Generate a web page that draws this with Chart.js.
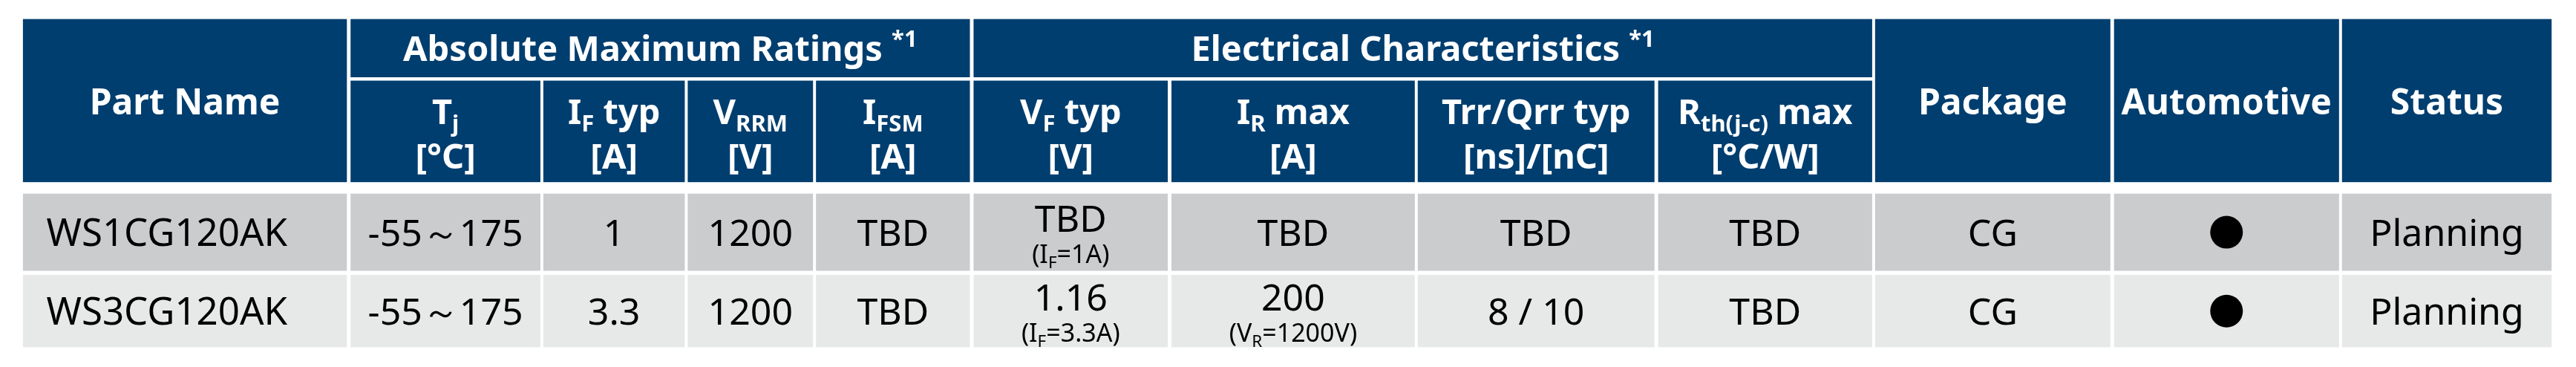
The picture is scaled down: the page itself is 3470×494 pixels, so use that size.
<!DOCTYPE html>
<html>
<head>
<meta charset="utf-8">
<script src="https://cdn.jsdelivr.net/npm/chart.js@4.4.1/dist/chart.umd.min.js"></script>
<style>
  html, body { margin: 0; padding: 0; background: #fff; }
  canvas { display: block; }
</style>
</head>
<body>
<canvas id="chart" width="3470" height="494"></canvas>
<script>
// table content
const partNames = ['WS1CG120AK', 'WS3CG120AK'];
const tjRange = ['-55～175', '-55～175'];
const ifTyp = ['1', '3.3'];
const vrrm = ['1200', '1200'];
const ifsm = ['TBD', 'TBD'];
const vfTyp = ['TBD', '1.16'];
const vfCond = [[['(I'], ['F', 'sub'], ['=1A)']], [['(I'], ['F', 'sub'], ['=3.3A)']]];
const irMax = ['TBD', '200'];
const irCond = [null, [['(V'], ['R', 'sub'], ['=1200V)']]];
const trrQrr = ['TBD', '8 / 10'];
const rthMax = ['TBD', 'TBD'];
const packages = ['CG', 'CG'];
const automotive = [true, true];
const status = ['Planning', 'Planning'];

const groupTitles = [
  { text: [['Absolute Maximum Ratings '], ['*1', 'sup']], from: 1, to: 4 },
  { text: [['Electrical Characteristics '], ['*1', 'sup']], from: 5, to: 8 },
];
const spanHeaders = { 0: 'Part Name', 9: 'Package', 10: 'Automotive', 11: 'Status' };
const subHeaders = {
  1: [[['T'], ['j', 'sub']], [['[°C]']]],
  2: [[['I'], ['F', 'sub'], [' typ']], [['[A]']]],
  3: [[['V'], ['RRM', 'sub']], [['[V]']]],
  4: [[['I'], ['FSM', 'sub']], [['[A]']]],
  5: [[['V'], ['F', 'sub'], [' typ']], [['[V]']]],
  6: [[['I'], ['R', 'sub'], [' max']], [['[A]']]],
  7: [[['Trr/Qrr typ']], [['[ns]/[nC]']]],
  8: [[['R'], ['th(j-c)', 'sub'], [' max']], [['[°C/W]']]],
};

// layout (pixels)
const colEdges = [[9, 451], [456, 715], [719, 912], [916, 1087], [1091, 1301], [1306, 1571],
  [1576, 1908], [1912, 2235], [2240, 2532], [2536, 2857], [2862, 3169], [3173, 3459]];
const headTop = 4, groupBottom = 90, subTop = 95, headBottom = 245;
const rowEdges = [[262, 376], [382, 489]];
const HEAD = '#003e6f';
const ROWBG = ['#cbccce', '#e7e9e8'];
const FONT = '"Noto Sans", "Open Sans", sans-serif';

const bodyCols = [partNames, tjRange, ifTyp, vrrm, ifsm, vfTyp, irMax, trrQrr, rthMax, packages, null, status];

function drawRich(ctx, segs, cx, cy, size, bold, color, left) {
  const w = bold ? 'bold ' : '';
  const parts = segs.map(([t, k]) => {
    const s = k ? size * 0.66 : size;
    ctx.font = w + s + 'px ' + FONT;
    return { t, k, s, width: ctx.measureText(t).width };
  });
  const total = parts.reduce((a, p) => a + p.width, 0);
  let x = left ? cx : cx - total / 2;
  ctx.fillStyle = color;
  ctx.textAlign = 'left';
  ctx.textBaseline = 'alphabetic';
  const base = cy + size * 0.36;
  parts.forEach(p => {
    ctx.font = w + p.s + 'px ' + FONT;
    let y = base;
    if (p.k === 'sub') y += size * 0.2;
    if (p.k === 'sup') y -= size * 0.4;
    ctx.fillText(p.t, x, y);
    x += p.width;
  });
}

const tablePlugin = {
  id: 'table',
  beforeDatasetsDraw(chart) {
    const { ctx, scales: { x, y } } = chart;
    const px = v => x.getPixelForValue(v), py = v => y.getPixelForValue(v);
    const rect = (x0, y0, x1, y1, c) => { ctx.fillStyle = c; ctx.fillRect(px(x0), py(y0), px(x1) - px(x0), py(y1) - py(y0)); };
    ctx.save();
    // header
    colEdges.forEach(([a, b], i) => {
      if (spanHeaders[i] !== undefined) {
        rect(a, headTop, b, headBottom, HEAD);
        drawRich(ctx, [[spanHeaders[i]]], px((a + b) / 2), py(126), 48, true, '#fff');
      } else {
        rect(a, subTop, b, headBottom, HEAD);
        const [l1, l2] = subHeaders[i];
        drawRich(ctx, l1, px((a + b) / 2), py(141), 47, true, '#fff');
        drawRich(ctx, l2, px((a + b) / 2), py(206), 47, true, '#fff');
      }
    });
    groupTitles.forEach(g => {
      const a = colEdges[g.from][0], b = colEdges[g.to][1];
      rect(a, headTop, b, groupBottom, HEAD);
      drawRich(ctx, g.text, px((a + b) / 2), py(47), 47, true, '#fff');
    });
    // body
    rowEdges.forEach(([t, bt], r) => {
      const cy = (t + bt) / 2;
      colEdges.forEach(([a, b], i) => {
        rect(a, t, b, bt, ROWBG[r]);
        const col = bodyCols[i];
        if (!col) return;
        const cx = px((a + b) / 2);
        const cond = i === 5 ? vfCond[r] : i === 6 ? irCond[r] : null;
        if (i === 0) {
          drawRich(ctx, [[col[r]]], px(a + 32), py(cy), 51, false, '#000', true);
        } else if (cond) {
          drawRich(ctx, [[col[r]]], cx, py(cy - 20), 50, false, '#000');
          drawRich(ctx, cond, cx, py(cy + 32), 34, false, '#000');
        } else {
          drawRich(ctx, [[col[r]]], cx, py(cy), 50, false, '#000');
        }
      });
    });
    ctx.restore();
  }
};

const autoCol = colEdges[10];
const dots = automotive.map((v, r) => v ? { x: (autoCol[0] + autoCol[1]) / 2, y: (rowEdges[r][0] + rowEdges[r][1]) / 2 } : null).filter(Boolean);

new Chart(document.getElementById('chart'), {
  type: 'scatter',
  data: {
    datasets: [{
      data: dots,
      pointRadius: 22,
      pointBackgroundColor: '#000',
      pointBorderWidth: 0,
    }],
  },
  options: {
    responsive: false,
    animation: false,
    devicePixelRatio: 1,
    layout: { padding: 0 },
    plugins: { legend: { display: false }, tooltip: { enabled: false } },
    scales: {
      x: { type: 'linear', min: 0, max: 3470, display: false },
      y: { type: 'linear', min: 0, max: 494, reverse: true, display: false },
    },
  },
  plugins: [tablePlugin],
});
</script>
</body>
</html>
